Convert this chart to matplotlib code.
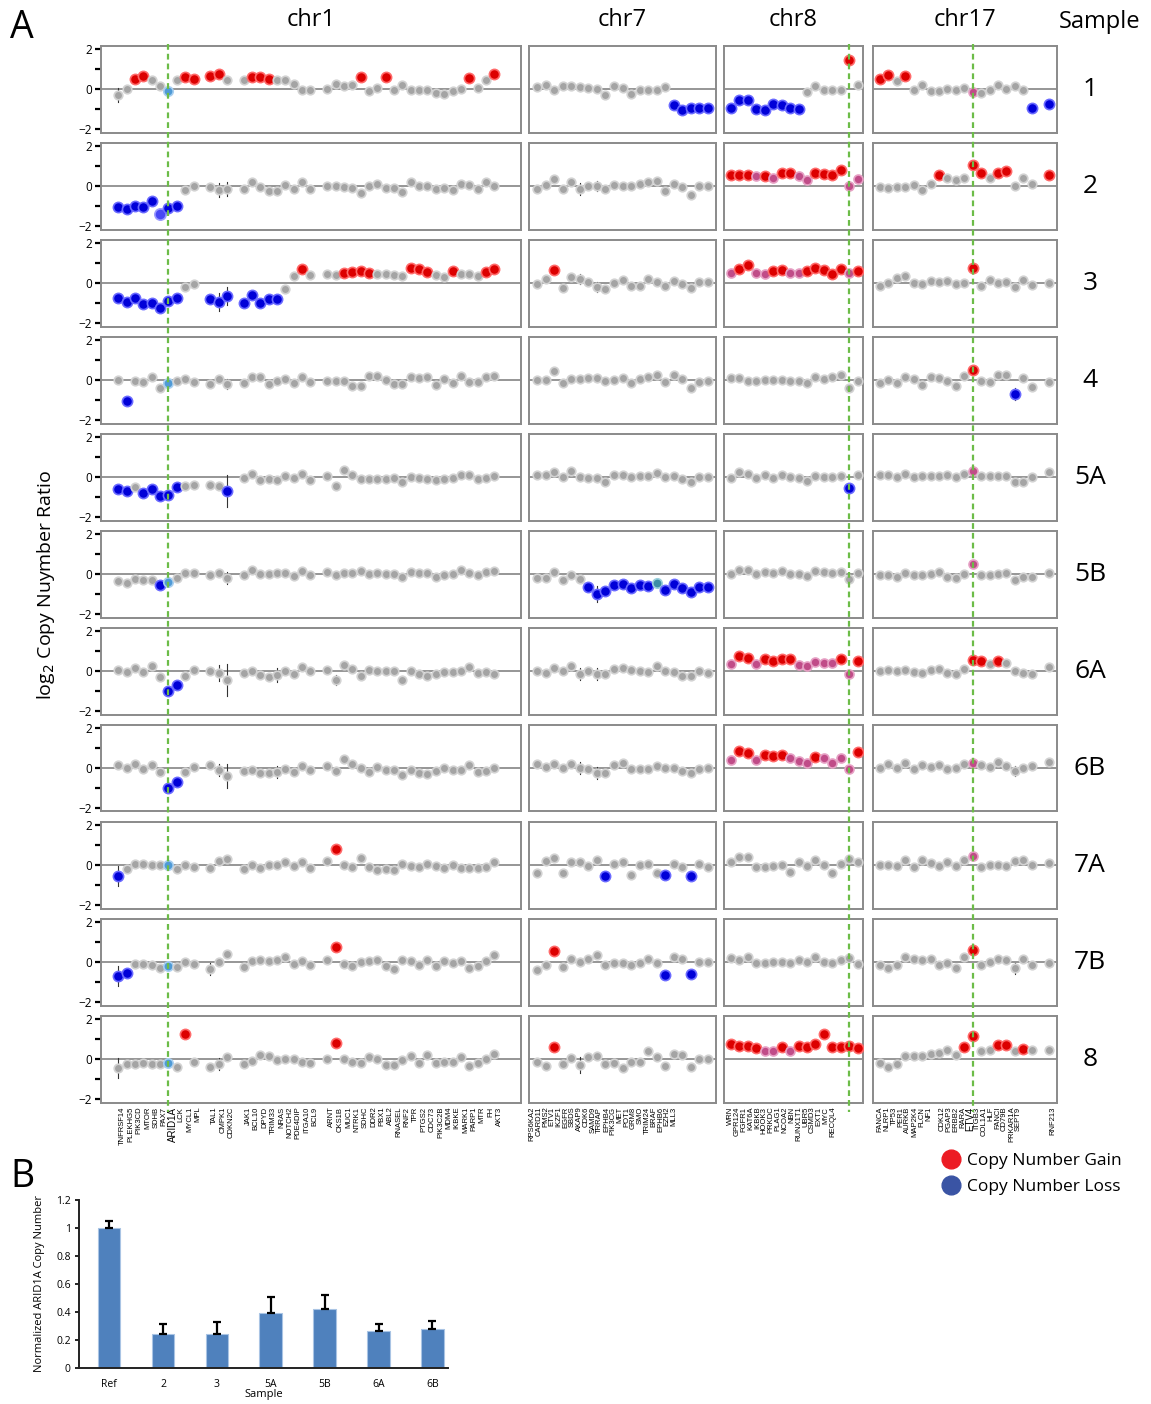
import numpy as np
import matplotlib
matplotlib.use("Agg")
import matplotlib.pyplot as plt
from matplotlib.lines import Line2D
from matplotlib.transforms import blended_transform_factory

plt.rcParams['font.family'] = ['Open Sans', 'DejaVu Sans']

# ---------------- DATA ----------------
samples = ['1', '2', '3', '4', '5A', '5B', '6A', '6B', '7A', '7B', '8']
chroms = ['chr1', 'chr7', 'chr8', 'chr17']

chr1_genes = ['TNFRSF14', 'PLEKHG5', 'PIK3CD', 'MTOR', 'SDHB', 'PAX7', 'ARID1A', 'LCK', 'MYCL1', 'MPL', '',
              'TAL1', 'CMPK1', 'CDKN2C', '',
              'JAK1', 'BCL10', 'DPYD', 'TRIM33', 'NRAS', 'NOTCH2', 'PDE4DIP', 'ITGA10', 'BCL9', '',
              'ARNT', 'CKS1B', 'MUC1', 'NTRK1', 'SDHC', 'DDR2', 'PBX1', 'ABL2', 'RNASEL', 'RNF2', 'TPR',
              'PTGS2', 'CDC73', 'PIK3C2B', 'MDM4', 'IKBKE', 'MARK1', 'PARP1', 'MTR', 'FH', 'AKT3']
chr7_genes = ['RPS6KA2', 'CARD11', 'PMS2', 'ETV1', 'IKZF1', 'EGFR', 'SBDS', 'AKAP9', 'CDK6', 'SAMD9', 'TRRAP',
              'EPHB4', 'PIK3CG', 'MET', 'POT1', 'GRM8', 'SMO', 'TRIM24', 'BRAF', 'EPHB6', 'EZH2', 'MLL3']
chr8_genes = ['WRN', 'GPR124', 'FGFR1', 'KAT6A', 'IKBKB', 'HOOK3', 'PRKDC', 'PLAG1', 'NCOA2', 'NBN', 'RUNX1T1',
              'UBR5', 'CSMD3', 'EXT1', 'MYC', 'RECQL4']
chr17_genes = ['FANCA', 'NLRP1', 'TP53', 'PER1', 'AURKB', 'MAP2K4', 'FLCN', 'NF1', '',
               'CDK12', 'PGAP3', 'ERBB2', 'RARA', 'ETV4', 'ITGB3', 'COL1A1', 'HLF', 'FANCI', 'CD79B',
               'PRKAR1A', 'SEPT9', '', '', '', '', 'RNF213']
highlight_genes = ['ARID1A', 'ETV4']

N = None
chr1_vals = [
    [-0.3, 0.03, 0.5, 0.65, 0.48, 0.15, -0.1, 0.45, 0.62, 0.5, N, 0.65, 0.78, 0.48, N, 0.48, 0.62, 0.62, 0.5, 0.45, 0.45, 0.28, -0.05, -0.02, N, 0.03, 0.28, 0.15, 0.23, 0.62, -0.1, 0.08, 0.62, -0.05, 0.2, -0.05, -0.02, -0.02, -0.17, -0.22, -0.08, 0.0, 0.57, 0.07, 0.45, 0.78],
    [-1.05, -1.13, -0.98, -1.02, -0.73, -1.38, -1.08, -1.0, -0.17, 0.0, N, -0.05, -0.17, -0.12, N, -0.12, 0.2, -0.05, -0.22, -0.22, 0.08, -0.12, 0.2, -0.12, N, 0.0, 0.0, -0.05, -0.08, -0.33, 0.0, 0.12, -0.08, -0.08, -0.28, 0.22, 0.0, 0.03, -0.12, -0.08, -0.17, 0.12, 0.05, -0.12, 0.2, 0.03],
    [-0.72, -0.92, -0.72, -1.03, -1.0, -1.25, -0.88, -0.75, -0.2, -0.05, N, -0.8, -0.95, -0.63, N, -0.97, -0.58, -0.97, -0.78, -0.78, -0.28, 0.38, 0.72, 0.42, N, 0.45, 0.42, 0.53, 0.58, 0.63, 0.53, 0.45, 0.45, 0.42, 0.38, 0.75, 0.7, 0.58, 0.42, 0.33, 0.63, 0.45, 0.45, 0.38, 0.55, 0.7],
    [0.03, -1.05, -0.05, -0.08, 0.15, -0.38, -0.13, -0.05, 0.08, -0.08, N, -0.18, 0.08, -0.18, N, -0.13, 0.17, 0.17, -0.17, -0.05, 0.08, -0.13, 0.15, -0.08, N, -0.02, -0.02, -0.05, -0.27, -0.27, 0.2, 0.2, 0.0, -0.18, -0.18, 0.17, 0.12, 0.15, -0.25, 0.08, -0.13, 0.2, -0.1, -0.1, 0.15, 0.2],
    [-0.57, -0.7, -0.5, -0.78, -0.58, -0.95, -0.87, -0.5, -0.45, -0.37, N, -0.37, -0.45, -0.7, N, -0.03, 0.17, -0.12, -0.07, -0.12, 0.08, -0.03, 0.17, -0.12, N, 0.05, -0.42, 0.35, 0.13, -0.08, -0.07, -0.07, -0.07, -0.03, -0.25, 0.0, -0.03, -0.07, -0.12, -0.07, -0.03, 0.13, 0.13, -0.08, -0.03, 0.05],
    [-0.33, -0.45, -0.22, -0.3, -0.27, -0.55, -0.38, -0.17, 0.08, 0.08, N, -0.03, 0.08, -0.2, N, -0.03, 0.2, 0.03, 0.0, 0.08, 0.08, -0.08, 0.17, -0.03, N, 0.13, -0.05, 0.08, 0.08, 0.17, 0.03, 0.08, 0.0, 0.0, -0.12, 0.13, 0.08, 0.08, -0.12, -0.05, 0.0, 0.2, 0.08, -0.05, 0.13, 0.17],
    [0.08, -0.05, 0.17, -0.05, 0.25, -0.3, -1.0, -0.68, -0.25, 0.05, N, 0.0, -0.08, -0.42, N, -0.08, 0.0, -0.17, -0.3, -0.17, 0.0, -0.13, 0.2, 0.0, N, 0.08, -0.42, 0.3, 0.12, -0.22, 0.05, 0.0, 0.0, 0.03, -0.42, 0.0, -0.12, -0.22, -0.13, -0.05, -0.05, 0.03, 0.2, -0.08, -0.05, -0.12],
    [0.17, 0.03, 0.22, -0.03, 0.17, -0.2, -0.97, -0.67, -0.17, 0.08, N, 0.17, -0.08, -0.38, N, -0.13, -0.08, -0.25, -0.25, -0.17, -0.05, -0.17, 0.12, -0.08, N, 0.12, -0.13, 0.45, 0.22, 0.0, -0.17, 0.05, -0.08, -0.08, -0.33, -0.08, -0.25, -0.28, -0.13, 0.0, -0.08, -0.08, 0.17, -0.17, -0.13, 0.03],
    [-0.53, -0.17, 0.08, 0.05, 0.0, 0.0, 0.0, -0.17, 0.02, -0.08, N, -0.12, 0.22, 0.33, N, -0.2, 0.0, -0.12, 0.0, 0.02, 0.17, -0.03, 0.17, -0.12, N, 0.22, 0.8, 0.0, -0.07, 0.38, -0.07, -0.23, -0.17, -0.23, 0.08, -0.03, -0.07, 0.05, -0.03, -0.12, 0.0, -0.12, -0.12, -0.12, -0.08, 0.18],
    [-0.7, -0.53, -0.07, -0.07, -0.12, -0.28, -0.17, -0.25, 0.0, -0.07, N, -0.32, 0.0, 0.42, N, -0.23, 0.05, 0.13, 0.05, 0.13, 0.25, -0.07, 0.05, -0.12, N, 0.1, 0.75, -0.07, -0.17, 0.0, 0.05, 0.1, -0.2, -0.32, 0.13, 0.05, -0.15, 0.13, -0.17, 0.05, -0.03, 0.05, -0.28, -0.17, 0.05, 0.38],
    [-0.45, -0.25, -0.22, -0.17, -0.22, -0.22, -0.17, -0.37, 1.25, -0.12, N, -0.37, -0.25, 0.12, N, -0.22, -0.08, 0.2, 0.17, -0.05, 0.0, 0.0, -0.13, -0.17, N, 0.0, 0.8, 0.0, -0.12, -0.2, 0.12, 0.0, -0.3, -0.28, -0.05, 0.17, -0.17, 0.2, -0.17, -0.12, -0.12, 0.13, -0.33, -0.17, 0.0, 0.28],
]
# status per probe: g normal, r gain, b loss, v loss (ARID1A probe), c ARID1A, p borderline gain, t borderline loss
chr1_status = [
    "ggrrggcgrr.rrg.grrrggggg.ggggrggrgggggggggrggr",
    "bbbbbvbbgg.ggg.ggggggggg.ggggggggggggggggggggg",
    "bbbbbbbbgg.bbb.bbbbbggrg.ggrrrrggggrrrggrgggrr",
    "gbggggcggg.ggg.ggggggggg.ggggggggggggggggggggg",
    "bbgbbbbbgg.ggb.ggggggggg.ggggggggggggggggggggg",
    "gggggbcggg.ggg.ggggggggg.ggggggggggggggggggggg",
    "ggggggbbgg.ggg.ggggggggg.ggggggggggggggggggggg",
    "ggggggbbgg.ggg.ggggggggg.ggggggggggggggggggggg",
    "bgggggcggg.ggg.ggggggggg.grggggggggggggggggggg",
    "bbggggcggg.ggg.ggggggggg.grggggggggggggggggggg",
    "ggggggcgrg.ggg.ggggggggg.grggggggggggggggggggg",
]
chr7_vals = [
    [0.12, 0.2, -0.05, 0.15, 0.15, 0.12, 0.08, 0.03, -0.3, 0.15, 0.08, -0.25, -0.02, -0.02, -0.02, 0.12, -0.8, -1.02, -0.92, -0.92, -0.92],
    [-0.12, 0.06, 0.34, -0.12, 0.19, -0.12, 0.03, 0.0, -0.12, 0.06, 0.0, 0.0, 0.09, 0.22, 0.25, -0.22, 0.12, -0.06, -0.43, 0.0, 0.0],
    [-0.06, 0.2, 0.68, -0.25, 0.3, 0.2, 0.06, -0.2, -0.28, 0.0, 0.15, -0.12, -0.12, 0.2, 0.06, -0.15, 0.1, -0.06, -0.25, 0.06, 0.06],
    [0.0, 0.0, 0.46, -0.15, 0.06, 0.06, 0.12, 0.12, -0.06, 0.0, 0.12, -0.15, 0.06, 0.18, 0.25, -0.1, 0.25, 0.06, -0.37, -0.1, -0.03],
    [0.12, 0.12, 0.25, 0.0, 0.3, 0.0, -0.03, -0.06, -0.22, 0.12, 0.12, 0.0, 0.06, 0.06, 0.22, 0.0, 0.06, -0.09, -0.22, 0.0, 0.0],
    [-0.18, -0.18, 0.09, -0.28, -0.03, -0.25, -0.65, -1.0, -0.83, -0.55, -0.5, -0.7, -0.55, -0.58, -0.43, -0.8, -0.5, -0.7, -0.9, -0.65, -0.65],
    [0.03, -0.09, 0.15, 0.0, 0.28, -0.12, 0.0, -0.12, -0.12, 0.09, 0.15, 0.06, 0.03, -0.06, 0.28, 0.03, -0.06, -0.22, -0.22, 0.0, -0.09],
    [0.22, 0.06, 0.22, 0.0, 0.22, 0.0, -0.03, -0.22, -0.25, 0.18, 0.25, -0.06, -0.06, -0.06, 0.12, 0.0, 0.0, -0.12, -0.25, -0.06, 0.0],
    [-0.37, 0.22, 0.37, -0.4, 0.15, 0.15, -0.03, 0.28, -0.55, 0.06, 0.15, -0.46, 0.03, 0.06, -0.4, -0.5, 0.06, -0.09, -0.55, 0.06, -0.09],
    [-0.4, -0.15, 0.55, -0.22, 0.15, 0.0, 0.15, 0.34, -0.15, -0.03, -0.06, -0.15, -0.03, 0.18, -0.06, -0.62, 0.25, 0.18, -0.6, 0.03, 0.03],
    [-0.15, -0.34, 0.62, -0.25, 0.06, -0.28, 0.09, 0.18, -0.25, -0.18, -0.43, -0.12, -0.12, 0.43, 0.09, -0.34, 0.28, 0.22, -0.4, 0.03, 0.03],
]
chr7_status = [
    "ggggggggggggggggbbbbb",
    "ggggggggggggggggggggg",
    "ggrgggggggggggggggggg",
    "ggggggggggggggggggggg",
    "ggggggggggggggggggggg",
    "ggggggbbbbbbbbtbbbbbb",
    "ggggggggggggggggggggg",
    "ggggggggggggggggggggg",
    "ggggggggbggggggbggbgg",
    "ggrggggggggggggbggbgg",
    "ggrgggggggggggggggggg",
]
chr8_vals = [
    [-0.92, -0.55, -0.52, -0.97, -1.02, -0.72, -0.8, -0.92, -0.97, -0.13, 0.15, -0.05, -0.05, -0.05, 1.45, 0.2],
    [0.56, 0.56, 0.56, 0.5, 0.5, 0.43, 0.68, 0.68, 0.5, 0.31, 0.68, 0.62, 0.56, 0.8, 0.0, 0.37],
    [0.5, 0.71, 0.93, 0.5, 0.46, 0.62, 0.65, 0.5, 0.5, 0.59, 0.74, 0.65, 0.46, 0.71, 0.5, 0.59],
    [0.12, 0.12, -0.06, -0.06, 0.0, 0.0, 0.0, -0.06, -0.06, -0.12, 0.15, 0.06, 0.18, 0.25, -0.37, -0.03],
    [-0.06, 0.25, 0.15, -0.03, 0.09, -0.03, 0.12, 0.03, -0.03, -0.18, 0.06, 0.0, 0.0, 0.06, -0.55, 0.09],
    [0.0, 0.22, 0.22, 0.0, 0.12, 0.06, 0.18, 0.03, 0.03, -0.09, 0.15, 0.09, 0.06, 0.12, -0.25, 0.06],
    [0.37, 0.74, 0.68, 0.37, 0.62, 0.5, 0.59, 0.59, 0.31, 0.25, 0.46, 0.43, 0.4, 0.59, -0.15, 0.53],
    [0.4, 0.86, 0.77, 0.4, 0.65, 0.59, 0.65, 0.49, 0.37, 0.28, 0.56, 0.49, 0.28, 0.49, -0.03, 0.83],
    [0.15, 0.4, 0.43, -0.09, -0.09, -0.06, 0.03, -0.34, 0.18, -0.03, 0.25, 0.03, -0.37, 0.06, 0.31, 0.15],
    [0.22, 0.12, 0.28, -0.03, -0.03, 0.0, 0.0, -0.03, 0.12, 0.03, 0.28, 0.0, -0.06, 0.09, 0.22, -0.09],
    [0.77, 0.65, 0.65, 0.56, 0.4, 0.4, 0.59, 0.43, 0.65, 0.62, 0.77, 1.27, 0.59, 0.59, 0.65, 0.56],
]
chr8_status = [
    "bbbbbbbbbgggggrg",
    "rrrprprrpprrrrpp",
    "prrpprrpprrrrrpr",
    "gggggggggggggggg",
    "ggggggggggggggbg",
    "gggggggggggggggg",
    "prrprrrrppppprpr",
    "prrprrrppprppppr",
    "gggggggggggggggg",
    "gggggggggggggggg",
    "rrrrpprprrrrrrrr",
]
chr17_vals = [
    [0.5, 0.73, 0.42, 0.65, -0.05, 0.23, -0.08, -0.1, 0.03, -0.02, 0.07, -0.13, -0.17, -0.02, 0.23, 0.03, 0.15, -0.05, -0.93, N, -0.72],
    [-0.03, -0.08, -0.03, -0.03, 0.05, -0.2, 0.13, 0.55, 0.42, 0.3, 0.43, 1.05, 0.67, 0.43, 0.67, 0.77, 0.0, 0.43, 0.13, N, 0.58],
    [-0.15, 0.03, 0.28, 0.34, 0.03, -0.03, 0.12, 0.06, 0.12, -0.03, 0.03, 0.74, -0.15, 0.18, 0.0, 0.06, -0.18, 0.15, -0.09, N, 0.0],
    [-0.12, 0.0, -0.15, 0.18, 0.06, -0.22, 0.18, 0.09, -0.03, -0.31, 0.22, 0.52, -0.03, -0.09, 0.28, 0.25, -0.68, 0.09, -0.34, N, -0.09],
    [0.09, 0.12, 0.03, 0.15, 0.03, 0.06, 0.06, 0.06, 0.09, 0.0, 0.15, 0.31, 0.06, 0.06, 0.06, 0.06, -0.22, -0.22, 0.03, N, 0.25],
    [-0.06, -0.06, -0.15, 0.06, -0.03, -0.03, 0.03, 0.09, -0.15, -0.18, 0.03, 0.5, -0.03, -0.06, 0.03, 0.06, -0.28, -0.15, -0.15, N, 0.06],
    [0.0, 0.06, 0.0, 0.06, -0.06, -0.09, 0.06, 0.09, -0.09, -0.12, 0.09, 0.56, 0.5, 0.37, 0.53, 0.43, 0.0, -0.09, -0.12, N, 0.22],
    [0.0, 0.22, 0.03, 0.25, -0.03, 0.15, 0.06, 0.15, -0.03, 0.0, 0.22, 0.25, 0.15, 0.06, 0.31, 0.09, -0.15, 0.0, 0.12, N, 0.31],
    [0.0, 0.0, -0.06, 0.28, -0.09, 0.28, 0.09, -0.03, 0.18, -0.06, 0.28, 0.46, -0.09, 0.03, 0.0, -0.03, 0.22, 0.28, 0.03, N, 0.12],
    [-0.15, -0.28, -0.15, 0.28, 0.15, 0.12, 0.15, -0.15, -0.06, -0.31, 0.28, 0.62, -0.12, 0.03, 0.18, 0.09, -0.31, 0.15, -0.12, N, -0.06],
    [-0.18, -0.37, -0.25, 0.15, 0.15, 0.15, 0.25, 0.31, 0.46, 0.22, 0.62, 1.17, 0.43, 0.46, 0.71, 0.71, 0.43, 0.49, 0.46, N, 0.46],
]
chr17_status = [
    "rrgrgggggggpggggggb.b",
    "gggggggrgggrrgrrggg.r",
    "gggggggggggrggggggg.g",
    "gggggggggggrggggbgg.g",
    "gggggggggggpggggggg.g",
    "gggggggggggpggggggg.g",
    "gggggggggggrrgrgggg.g",
    "gggggggggggpggggggg.g",
    "gggggggggggpggggggg.g",
    "gggggggggggrggggggg.g",
    "ggggggggggrrggrrgrg.g",
]
# error bars: (sample row, probe slot, half-length)
chr1_err = [(0, 0, 0.35), (1, 0, 0.12), (1, 4, 0.15), (1, 8, 0.15), (1, 12, 0.35), (1, 13, 0.35), (1, 19, 0.2),
            (2, 0, 0.12), (2, 5, 0.2), (2, 12, 0.45), (2, 13, 0.45), (2, 19, 0.15), (3, 1, 0.15), (3, 12, 0.15),
            (3, 13, 0.25), (4, 12, 0.1), (4, 13, 0.8), (4, 19, 0.12), (5, 13, 0.3), (6, 12, 0.4), (6, 13, 0.8),
            (6, 19, 0.35), (6, 26, 0.25), (6, 29, 0.15), (6, 34, 0.2), (7, 12, 0.3), (7, 13, 0.6), (7, 19, 0.3),
            (7, 26, 0.2), (8, 0, 0.5), (8, 11, 0.2), (9, 0, 0.5), (9, 4, 0.2), (9, 11, 0.3), (10, 0, 0.5),
            (10, 4, 0.2), (10, 12, 0.3)]
chr7_err = [(0, 5, 0.2), (1, 5, 0.3), (1, 7, 0.25), (2, 5, 0.25), (2, 7, 0.25), (3, 5, 0.2), (3, 7, 0.2),
            (4, 5, 0.2), (4, 7, 0.2), (5, 7, 0.4), (6, 5, 0.3), (6, 7, 0.3), (7, 5, 0.3), (7, 7, 0.3),
            (8, 5, 0.2), (9, 5, 0.2), (10, 5, 0.4)]
chr8_err = []
chr17_err = [(3, 16, 0.3), (7, 16, 0.25), (9, 14, 0.2), (9, 16, 0.25)]
marker_probe = {'chr1': 6, 'chr8': 14, 'chr17': 11}   # ARID1A, MYC, ETV4

# panel B
qpcr_samples = ['Ref', '2', '3', '5A', '5B', '6A', '6B']
qpcr_values = [1.0, 0.24, 0.245, 0.395, 0.425, 0.265, 0.278]
qpcr_err = [0.05, 0.075, 0.083, 0.113, 0.1, 0.047, 0.058]

# ---------------- LAYOUT ----------------
W, H = 1151, 1404
fig = plt.figure(figsize=(W / 100, H / 100), dpi=100)

col_px = {'chr1': (101, 521), 'chr7': (529, 716), 'chr8': (724, 863), 'chr17': (873, 1057)}
slot0_px = {'chr1': 118.3, 'chr7': 537.0, 'chr8': 730.5, 'chr17': 880.0}
step_px = {'chr1': 8.356, 'chr7': 8.55, 'chr8': 8.5, 'chr17': 8.43}
label_span_px = {'chr1': (122.5, 499.0), 'chr7': (532, 674), 'chr8': (730, 833), 'chr17': (880, 1053)}
row_top0, row_step, row_h = 46.0, 97.0, 86.5

data = {'chr1': (chr1_vals, chr1_status, chr1_err, chr1_genes),
        'chr7': (chr7_vals, chr7_status, chr7_err, chr7_genes),
        'chr8': (chr8_vals, chr8_status, chr8_err, chr8_genes),
        'chr17': (chr17_vals, chr17_status, chr17_err, chr17_genes)}

face = {'g': '#a4a4a4', 'r': '#dc0000', 'b': '#0000d8', 'v': '#4848f4', 'c': '#4f9ad6', 'p': '#c04c88', 't': '#3d8ea6'}
edge = {'g': '#d2d2d2', 'r': '#ff6a6a', 'b': '#6a6aff', 'v': '#9a9aff', 'c': '#a8cff0', 'p': '#e6a0c4', 't': '#9ad0dc'}
size = {'g': 38, 'r': 54, 'b': 54, 'v': 66, 'c': 46, 'p': 42, 't': 46}

green = '#6cbc48'
axes_grid = {}
for ci, ch in enumerate(chroms):
    vals, stats, errs, genes = data[ch]
    x0, x1 = col_px[ch]
    s0, st = slot0_px[ch], step_px[ch]
    for ri, s in enumerate(samples):
        top = row_top0 + ri * row_step
        ax = fig.add_axes([x0 / W, 1 - (top + row_h) / H, (x1 - x0) / W, row_h / H])
        axes_grid[(ri, ch)] = ax
        ax.set_xlim((x0 - s0) / st, (x1 - s0) / st)
        ax.set_ylim(-2.15, 2.15)
        ax.axhline(0, color='#8e8e8e', lw=1.3, zorder=1)
        v = vals[ri]
        stat = stats[ri][:len(v)].ljust(len(v), 'g')
        xs = np.arange(len(v))
        for (er, es, ee) in errs:
            if er == ri and v[es] is not None:
                ax.plot([es, es], [v[es] - ee, v[es] + ee], color='#333333', lw=0.8, zorder=2)
        for k in xs:
            if v[k] is None:
                continue
            c = stat[k] if stat[k] in face else 'g'
            ax.scatter([k], [v[k]], s=size[c], c=face[c], edgecolors=edge[c], linewidths=1.2, zorder=3)
        for sp in ax.spines.values():
            sp.set_color('#8a8a8a')
            sp.set_linewidth(1.4)
        ax.set_xticks([])
        if ch == 'chr1':
            ax.set_yticks([-2, 0, 2])
            ax.set_yticklabels(['\u22122', '0', '2'], fontsize=8.5)
            ax.set_yticks([-1, 1], minor=True)
            ax.tick_params(axis='y', which='both', direction='out', length=4.5, width=1.6,
                           color='black', pad=2)
        else:
            ax.set_yticks([])
        if ri == len(samples) - 1:
            lp0, lp1 = label_span_px[ch]
            pos_px = np.linspace(lp0, lp1, len(genes))
            pos = (pos_px - s0) / st
            keep = [i for i, g in enumerate(genes) if g]
            ax.set_xticks(pos[keep])
            ax.set_xticklabels([genes[i] for i in keep], rotation=90, fontsize=5.5,
                               family=['Liberation Sans', 'DejaVu Sans'])
            ax.tick_params(axis='x', length=0, pad=3)
            for t in ax.get_xticklabels():
                if t.get_text() in highlight_genes:
                    t.set_fontsize(7)
    fig.text((x0 + x1) / 2 / W, 1 - 20 / H, ch, ha='center', va='center', fontsize=17)

# green dashed marker lines spanning all rows
for ch, slot in marker_probe.items():
    ax = axes_grid[(0, ch)]
    tr = blended_transform_factory(ax.transData, fig.transFigure)
    ln = Line2D([slot, slot], [1 - 44 / H, 1 - 1112 / H], transform=tr, color=green, lw=1.6,
                linestyle=(0, (2.6, 1.8)), zorder=10)
    fig.add_artist(ln)

# sample labels
fig.text(1100 / W, 1 - 22 / H, 'Sample', ha='center', va='center', fontsize=17)
for ri, s in enumerate(samples):
    yc = row_top0 + ri * row_step + row_h / 2
    fig.text(1090 / W, 1 - yc / H, s, ha='center', va='center', fontsize=19)

fig.text(22 / W, 1 - 28 / H, 'A', ha='center', va='center', fontsize=27)
fig.text(22 / W, 1 - 1177 / H, 'B', ha='center', va='center', fontsize=27)
fig.text(46 / W, 1 - 585 / H, 'log$_2$ Copy Nuymber Ratio', ha='center', va='center',
         rotation=90, fontsize=14)

# ---------------- PANEL B ----------------
axb = fig.add_axes([79 / W, 1 - 1368 / H, (448 - 79) / W, 168 / H])
xb = np.arange(len(qpcr_samples))
axb.bar(xb, qpcr_values, width=0.42, color='#4f81bd', edgecolor='#a9c4e4', linewidth=0.8, zorder=2)
axb.errorbar(xb, qpcr_values, yerr=[np.zeros(len(qpcr_err)), qpcr_err], fmt='none', ecolor='black',
             elinewidth=1.6, capsize=3, capthick=1.6, zorder=3)
axb.set_xlim(-0.56, 6.29)
axb.set_ylim(0, 1.2)
axb.set_yticks([0, 0.2, 0.4, 0.6, 0.8, 1.0, 1.2])
axb.set_yticklabels(['0', '0.2', '0.4', '0.6', '0.8', '1', '1.2'], fontsize=7.5)
axb.set_xticks(xb)
axb.set_xticklabels(qpcr_samples, fontsize=7.5)
axb.tick_params(axis='x', length=0, pad=8)
axb.tick_params(axis='y', direction='out', length=3, width=1.2, pad=3)
for sp in ['top', 'right']:
    axb.spines[sp].set_visible(False)
for sp in ['left', 'bottom']:
    axb.spines[sp].set_linewidth(1.4)
    axb.spines[sp].set_color('#222222')
axb.set_xlabel('Sample', fontsize=8, labelpad=-1)
axb.set_ylabel('Normalized ARID1A Copy Number', fontsize=8, labelpad=8)

# legend
handles = [Line2D([], [], marker='o', ls='', markersize=13.5, markerfacecolor='#ec1c24',
                  markeredgecolor='#ec1c24'),
           Line2D([], [], marker='o', ls='', markersize=13.5, markerfacecolor='#3a54a4',
                  markeredgecolor='#3a54a4')]
fig.legend(handles, ['Copy Number Gain', 'Copy Number Loss'], loc='upper left',
           bbox_to_anchor=(941 / W, 1 - 1153 / H), frameon=False, fontsize=12.5,
           handletextpad=0.3, labelspacing=0.55, handlelength=1.2, borderaxespad=0, borderpad=0)

fig.savefig('out.png', dpi=100)
